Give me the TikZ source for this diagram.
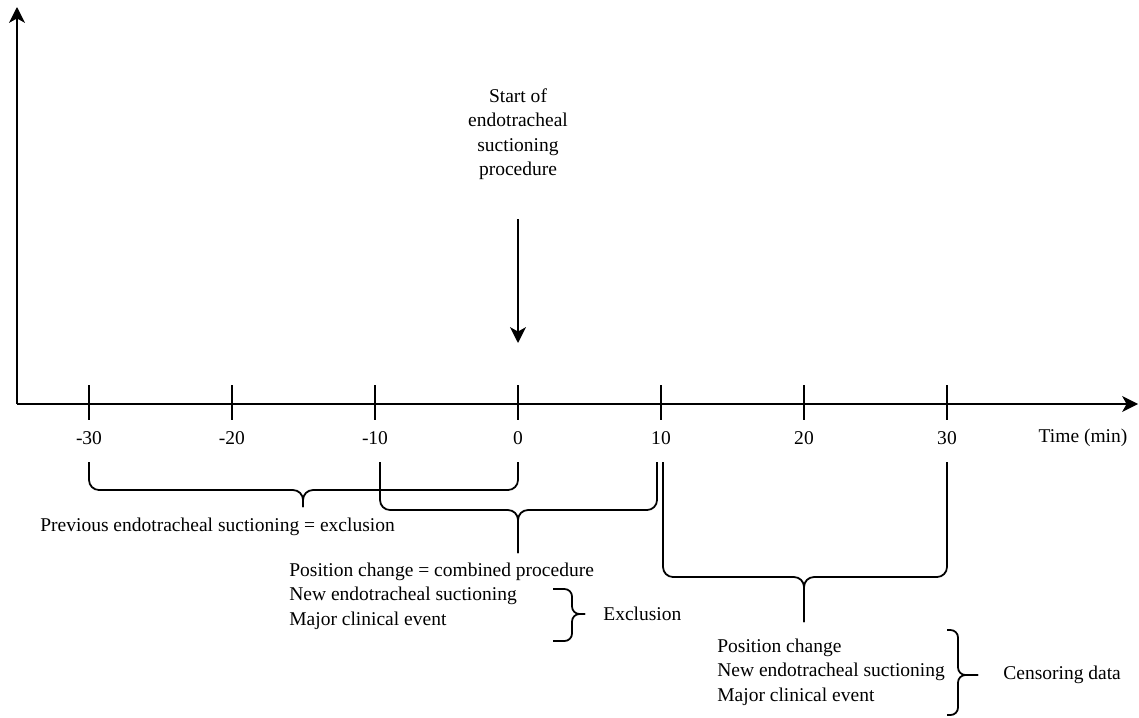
\documentclass[tikz,border=0pt]{standalone}
\usepackage{fontspec}
\setmainfont{Liberation Serif}
\usetikzlibrary{positioning,calc,arrows.meta}

\begin{document}
\begin{tikzpicture}[
    txt/.style={font=\fontsize{11.1}{13.9}\selectfont, inner sep=0pt},
    axis/.style={line width=1pt, -{Stealth[length=9pt,width=9pt,inset=2.5pt]}},
    tick/.style={line width=1pt},
    brace/.style={line width=1pt, rounded corners=0.2cm},
    arrow/.style={line width=1pt, -{Stealth[length=9pt,width=9pt,inset=2.5pt]}}
]
\useasboundingbox (-0.34,-6.26) rectangle (22.44,8.08);

% ========== AXES ==========
\coordinate (o) at (0,0);
\coordinate (xend) at (22.42,0);
\coordinate (yend) at (0,7.94);
\draw[axis] (o) -- (xend);
\draw[axis] (o) -- (yend);

% ticks and labels
\foreach \t [count=\i] in {-30,-20,...,30} {
    \coordinate (tk\i) at ({1.44+(\t+30)*0.286},0);
    \draw[tick] ([yshift=0.38cm]tk\i) -- ([yshift=-0.32cm]tk\i);
    \node[txt] (lab\i) at ([yshift=-0.68cm]tk\i) {\t};
}
\node[txt] (time) at (21.32,-0.68) {Time (min)};

% ========== START OF PROCEDURE ==========
\node[txt, align=center] (start) at (10.02,5.4) {Start of\\endotracheal\\suctioning\\procedure};
\coordinate (start-tip) at (tk4 |- 0,1.22);
\draw[arrow] (start.south |- 0,3.7) -- (start-tip);

% ========== BRACES BELOW AXIS ==========
% previous suctioning (-30 to 0)
\draw[brace] (tk1 |- 0,-1.16) |- (5.72,-1.72) -- (5.72,-2.06);
\draw[brace] (tk4 |- 0,-1.16) |- (5.72,-1.72) -- (5.72,-2.06);
\node[txt, anchor=west] (prev) at (0.46,-2.46) {Previous endotracheal suctioning = exclusion};

% combined procedure (-10 to 10)
\draw[brace] (7.26,-1.16) |- (tk4 |- 0,-2.12) -- (tk4 |- 0,-2.98);
\draw[brace] (12.8,-1.16) |- (tk4 |- 0,-2.12) -- (tk4 |- 0,-2.98);
\node[txt, anchor=west, align=left] (comb) at (5.44,-3.84) {Position change = combined procedure\\New endotracheal suctioning\\Major clinical event};

% exclusion brace
\draw[brace, rounded corners=0.15cm] (10.72,-3.7) -| (11.1,-4.2) -- (11.36,-4.2);
\draw[brace, rounded corners=0.15cm] (10.72,-4.74) -| (11.1,-4.2) -- (11.36,-4.2);
\node[txt, anchor=west] (excl) at (11.72,-4.2) {Exclusion};

% censoring (10 to 30)
\draw[brace] (12.92,-1.16) |- (tk6 |- 0,-3.46) -- (tk6 |- 0,-4.36);
\draw[brace] (tk7 |- 0,-1.16) |- (tk6 |- 0,-3.46) -- (tk6 |- 0,-4.36);
\node[txt, anchor=west, align=left] (cens) at (14.0,-5.36) {Position change\\New endotracheal suctioning\\Major clinical event};

% censoring brace
\draw[brace, rounded corners=0.15cm] (18.6,-4.52) -| (18.82,-5.42) -- (19.22,-5.42);
\draw[brace, rounded corners=0.15cm] (18.6,-6.22) -| (18.82,-5.42) -- (19.22,-5.42);
\node[txt, anchor=west] (censlab) at (19.72,-5.42) {Censoring data};

\end{tikzpicture}
\end{document}
